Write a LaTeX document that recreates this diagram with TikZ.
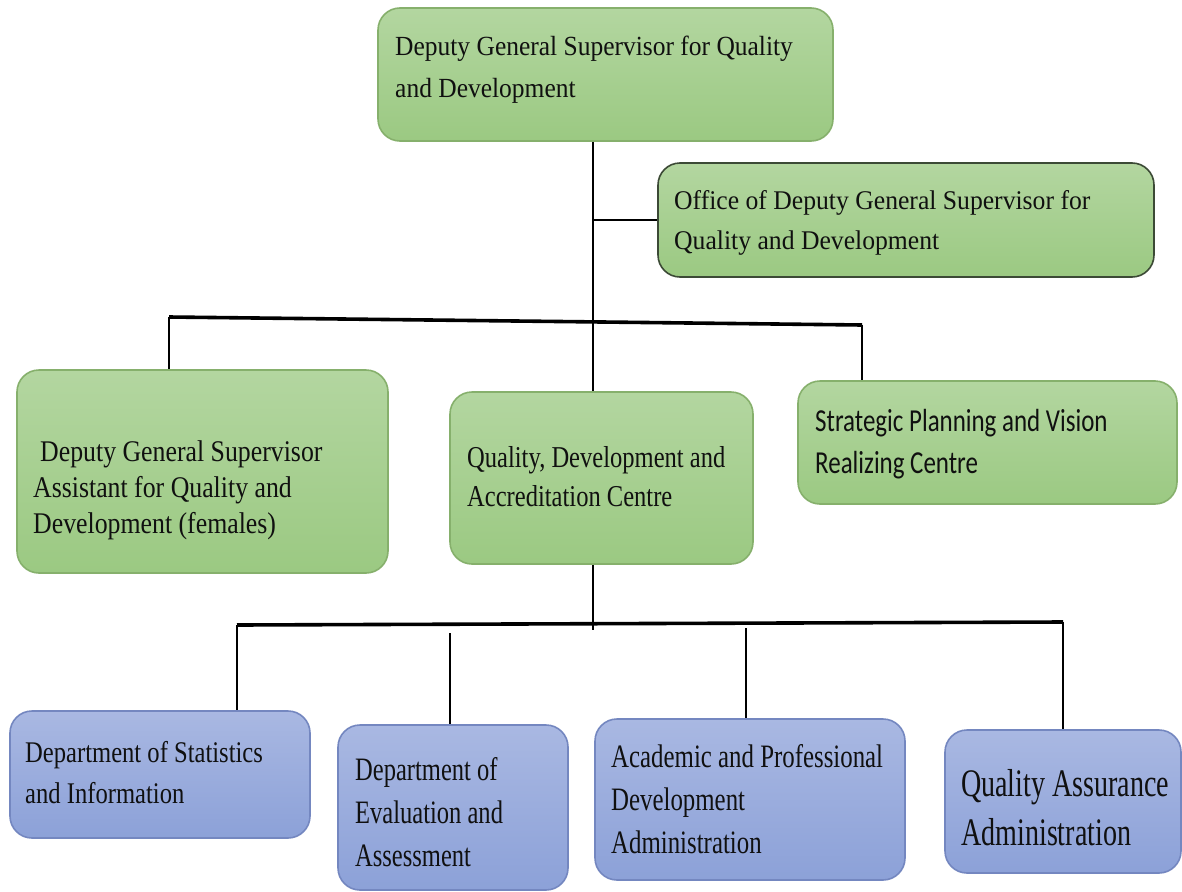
\documentclass[tikz,border=0pt]{standalone}
\usepackage{fontspec}
\setmainfont{Liberation Serif}
\newfontfamily\fTop{Liberation Serif}[FakeStretch=0.92]
\newfontfamily\fOff{Liberation Serif}[FakeStretch=0.95]
\newfontfamily\fLeft{Liberation Serif}[FakeStretch=0.86]
\newfontfamily\fMid{Liberation Serif}[FakeStretch=0.81]
\newfontfamily\fRight{Carlito}[FakeStretch=0.78]
\newfontfamily\fStats{Liberation Serif}[FakeStretch=0.82]
\newfontfamily\fEval{Liberation Serif}[FakeStretch=0.75]
\newfontfamily\fAcad{Liberation Serif}[FakeStretch=0.76]
\newfontfamily\fQa{Liberation Serif}[FakeStretch=0.72]
\usetikzlibrary{calc}
\definecolor{gtop}{HTML}{B3D6A0}
\definecolor{gbot}{HTML}{9BC982}
\definecolor{gline}{HTML}{86B06C}
\definecolor{odark}{HTML}{3C4A36}
\definecolor{btop}{HTML}{A9B8E2}
\definecolor{bbot}{HTML}{8CA1D8}
\definecolor{bline}{HTML}{7487C0}
\definecolor{txtc}{HTML}{101010}
\tikzset{
  gbox/.style={draw=gline, line width=1.6pt, rounded corners=22pt, top color=gtop, bottom color=gbot, inner sep=0pt},
  bbox/.style={draw=bline, line width=1.6pt, rounded corners=22pt, top color=btop, bottom color=bbot, inner sep=0pt},
  txt/.style={anchor=base west, align=left, inner sep=0pt, text=txtc},
  conn/.style={line width=2.6pt, black},
  bar/.style={line width=3.6pt, black},
  thin/.style={line width=1.6pt, black}
}
\begin{document}
\begin{tikzpicture}[x=1pt, y=-1pt]
\useasboundingbox (0,0) rectangle (1182,891);
\fill[white] (0,0) rectangle (1182,891);
% boxes
\node[gbox, minimum width=455pt, minimum height=133pt] (top) at (605.5,74.5) {};
\node[gbox, draw=odark, minimum width=496pt, minimum height=114pt] (office) at (906,220) {};
\node[gbox, minimum width=371pt, minimum height=203pt] (left) at (202.5,471.5) {};
\node[gbox, minimum width=303pt, minimum height=172pt] (mid) at (601.5,478) {};
\node[gbox, minimum width=379pt, minimum height=123pt] (right) at (987.5,442.5) {};
\node[bbox, minimum width=300pt, minimum height=127pt] (stats) at (160,774.5) {};
\node[bbox, minimum width=230pt, minimum height=165pt] (eval) at (453,807.5) {};
\node[bbox, minimum width=310pt, minimum height=161pt] (acad) at (750,799.5) {};
\node[bbox, minimum width=236pt, minimum height=143pt] (qa) at (1063,801.5) {};
% texts (anchored at the baseline of the last line)
\node[txt, font=\fTop\fontsize{27.7}{42}\selectfont] (ttop) at (395,97) {Deputy General Supervisor for Quality\\and Development};
\node[txt, font=\fOff\fontsize{27}{40}\selectfont] (toffice) at (674,249) {Office of Deputy General Supervisor for\\Quality and Development};
\node[txt, font=\fLeft\fontsize{30}{36}\selectfont] (tleft) at (33,533) {\hspace{7pt}Deputy General Supervisor\\Assistant for Quality and\\Development (females)};
\node[txt, font=\fMid\fontsize{30.3}{39}\selectfont] (tmid) at (467,506) {Quality, Development and\\Accreditation Centre};
\node[txt, font=\fRight\fontsize{32}{42}\selectfont] (tright) at (815,473) {Strategic Planning and Vision\\Realizing Centre};
\node[txt, font=\fStats\fontsize{30}{41}\selectfont] (tstats) at (25,803) {Department of Statistics\\and Information};
\node[txt, font=\fEval\fontsize{32.7}{43}\selectfont] (teval) at (355,866) {Department of\\Evaluation and\\Assessment};
\node[txt, font=\fAcad\fontsize{32.7}{43}\selectfont] (tacad) at (611,853) {Academic and Professional\\Development\\Administration};
\node[txt, font=\fQa\fontsize{39}{49}\selectfont] (tqa) at (961,845) {Quality Assurance\\Administration};
% connector points
\coordinate (trunk) at (593,0);
\coordinate (b1L) at (169,317);
\coordinate (b1R) at (862,325);
\coordinate (b2L) at (237,625);
\coordinate (b2R) at (1063,622);
\coordinate (m2) at (593,630);
\coordinate (evtop) at (450,633);
\coordinate (actop) at (746,628);
% connectors
\draw[conn] (top.south -| trunk) -- (mid.north -| trunk);
\draw[thin] (trunk |- office.west) -- (office.west);
\draw[bar] (b1L) -- (b1R);
\draw[conn] (b1L) -- (b1L |- left.north);
\draw[conn] (b1R) -- (b1R |- right.north);
\draw[conn] (mid.south -| m2) -- (m2);
\draw[bar] (b2L) -- (b2R);
\draw[conn] (b2L) -- (b2L |- stats.north);
\draw[conn] (evtop) -- (evtop |- eval.north);
\draw[conn] (actop) -- (actop |- acad.north);
\draw[conn] (b2R) -- (b2R |- qa.north);
\end{tikzpicture}
\end{document}
